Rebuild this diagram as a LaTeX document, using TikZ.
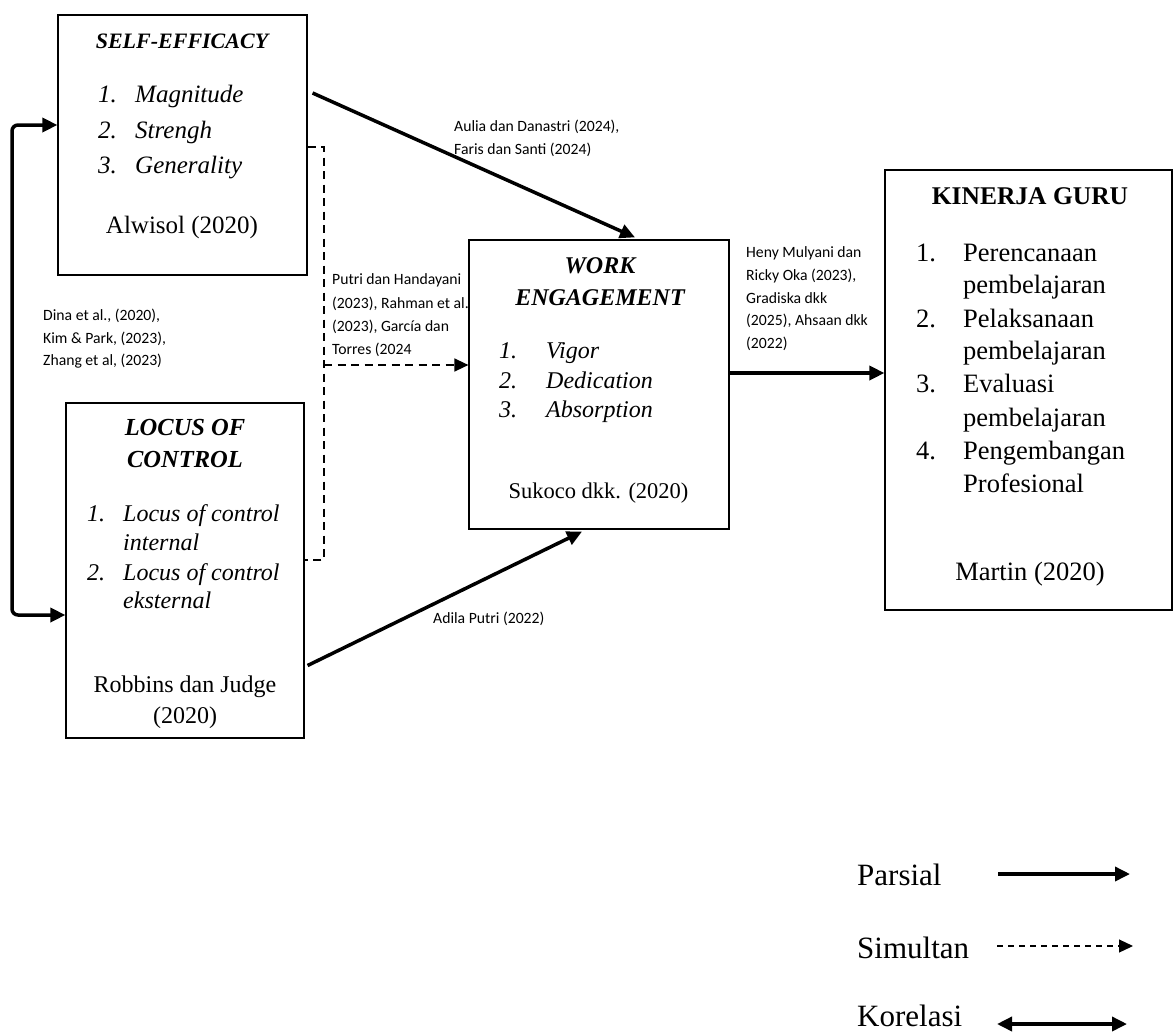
\documentclass[tikz,border=0pt]{standalone}
\usepackage{fontspec}
\setmainfont{Liberation Serif}
\newfontfamily\calib{Carlito}
\usetikzlibrary{arrows.meta}
\newcommand\sebody{\fontsize{25}{30}\selectfont}
\newcommand\locbody{\fontsize{24}{29}\selectfont}
\newcommand\kgbody{\fontsize{26.5}{31}\selectfont}
\newcommand\legf{\fontsize{31}{36}\selectfont}
\newcommand\smallf{\calib\fontsize{15.7}{18}\selectfont}
\begin{document}
\begin{tikzpicture}[x=1pt,y=-1pt,
  box/.style={draw, line width=1.2pt, inner sep=0},
  txt/.style={inner sep=0, anchor=base west},
  ctxt/.style={inner sep=0, anchor=base},
  small/.style={inner sep=0, anchor=base west, font=\smallf},
  parsial/.style={line width=3.5pt, -{Triangle[length=15pt,width=14pt]}},
  simultan/.style={line width=1.4pt, dash pattern=on 8pt off 5.5pt, -{Triangle[length=14pt,width=13pt]}},
  korelasi/.style={line width=3.5pt, {Triangle[length=15pt,width=14pt]}-{Triangle[length=15pt,width=14pt]}},
  bracket/.style={line width=1.4pt, dash pattern=on 8pt off 5.5pt},
]
\useasboundingbox (0,0) rectangle (1173,1034);

% ---------- Self-efficacy ----------
\node[box, minimum width=249pt, minimum height=260pt] (se) at (182.5,145) {};
\node[ctxt, font=\fontsize{22}{26}\selectfont\bfseries\itshape] (setitle) at (182,48) {SELF-EFFICACY};
\node[txt, font=\sebody\itshape] (se1n) at (98,102) {1.};
\node[txt, font=\sebody\itshape] (se1) at (135,102) {Magnitude};
\node[txt, font=\sebody\itshape] (se2n) at (98,138) {2.};
\node[txt, font=\sebody\itshape] (se2) at (135,138) {Strengh};
\node[txt, font=\sebody\itshape] (se3n) at (98,173) {3.};
\node[txt, font=\sebody\itshape] (se3) at (135,173) {Generality};
\node[ctxt, font=\sebody] (sesrc) at (182,233) {Alwisol (2020)};

% ---------- Locus of control ----------
\node[box, minimum width=238pt, minimum height=335pt] (loc) at (185,570.5) {};
\node[ctxt, font=\fontsize{24.5}{29}\selectfont\bfseries\itshape] (loct1) at (185,435) {LOCUS OF};
\node[ctxt, font=\fontsize{24.5}{29}\selectfont\bfseries\itshape] (loct2) at (185,467) {CONTROL};
\node[txt, font=\locbody\itshape] (loc1n) at (87,521) {1.};
\node[txt, font=\locbody\itshape] (loc1a) at (123,521) {Locus of control};
\node[txt, font=\locbody\itshape] (loc1b) at (123,550) {internal};
\node[txt, font=\locbody\itshape] (loc2n) at (87,580) {2.};
\node[txt, font=\locbody\itshape] (loc2a) at (123,580) {Locus of control};
\node[txt, font=\locbody\itshape] (loc2b) at (123,608) {eksternal};
\node[ctxt, font=\locbody] (locsrc1) at (185,692) {Robbins dan Judge};
\node[ctxt, font=\locbody] (locsrc2) at (185,723) {(2020)};

% ---------- Work engagement ----------
\node[box, minimum width=260pt, minimum height=289pt] (we) at (599,384.5) {};
\node[ctxt, font=\fontsize{24}{29}\selectfont\bfseries\itshape] (wet1) at (600,273) {WORK};
\node[ctxt, font=\fontsize{24}{29}\selectfont\bfseries\itshape] (wet2) at (600,305) {ENGAGEMENT};
\node[txt, font=\locbody\itshape] (we1n) at (499,358) {1.};
\node[txt, font=\locbody\itshape] (we1) at (546,358) {Vigor};
\node[txt, font=\locbody\itshape] (we2n) at (499,388) {2.};
\node[txt, font=\locbody\itshape] (we2) at (546,388) {Dedication};
\node[txt, font=\locbody\itshape] (we3n) at (499,417) {3.};
\node[txt, font=\locbody\itshape] (we3) at (546,417) {Absorption};
\node[ctxt, font=\fontsize{22.5}{27}\selectfont] (wesrc) at (598.5,498) {Sukoco dkk. (2020)};

% ---------- Kinerja guru ----------
\node[box, minimum width=287pt, minimum height=440pt] (kg) at (1028.5,390) {};
\node[ctxt, font=\fontsize{25.5}{30}\selectfont\bfseries] (kgt) at (1030,204) {KINERJA GURU};
\node[txt, font=\kgbody] (kg1n) at (916,261) {1.};
\node[txt, font=\kgbody] (kg1a) at (963,261) {Perencanaan};
\node[txt, font=\kgbody] (kg1b) at (963,293) {pembelajaran};
\node[txt, font=\kgbody] (kg2n) at (916,327) {2.};
\node[txt, font=\kgbody] (kg2a) at (963,327) {Pelaksanaan};
\node[txt, font=\kgbody] (kg2b) at (963,359) {pembelajaran};
\node[txt, font=\kgbody] (kg3n) at (916,392) {3.};
\node[txt, font=\kgbody] (kg3a) at (963,392) {Evaluasi};
\node[txt, font=\kgbody] (kg3b) at (963,426) {pembelajaran};
\node[txt, font=\kgbody] (kg4n) at (916,459) {4.};
\node[txt, font=\kgbody] (kg4a) at (963,459) {Pengembangan};
\node[txt, font=\kgbody] (kg4b) at (963,492) {Profesional};
\node[ctxt, font=\kgbody] (kgsrc) at (1030,580) {Martin (2020)};

% ---------- small labels ----------
\node[small] (la1) at (454,131) {Aulia dan Danastri (2024),};
\node[small] (la2) at (454,154) {Faris dan Santi (2024)};
\node[small] (lp1) at (332,284) {Putri dan Handayani};
\node[small] (lp2) at (332,308) {(2023), Rahman et al.};
\node[small] (lp3) at (332,331) {(2023), García dan};
\node[small] (lp4) at (332,354) {Torres (2024};
\node[small] (lh1) at (746,257) {Heny Mulyani dan};
\node[small] (lh2) at (746,280) {Ricky Oka (2023),};
\node[small] (lh3) at (746,303) {Gradiska dkk};
\node[small] (lh4) at (746,325) {(2025), Ahsaan dkk};
\node[small] (lh5) at (746,348) {(2022)};
\node[small] (ld1) at (43,320) {Dina et al., (2020),};
\node[small] (ld2) at (43,343) {Kim \& Park, (2023),};
\node[small] (ld3) at (43,365) {Zhang et al, (2023)};
\node[small] (lad) at (433,623) {Adila Putri (2022)};

% ---------- helper coordinates ----------
\coordinate (ya) at (0,125);
\coordinate (yb) at (0,615);
\coordinate (yc) at (0,147);
\coordinate (yd) at (0,560);
\coordinate (ye) at (0,365);
\coordinate (yf) at (0,373);
\coordinate (xl) at (12,0);
\coordinate (xb) at (324,0);

% ---------- connectors ----------
\draw[parsial] ([shift={(5,-52)}]se.east) -- ([shift={(36,-2)}]we.north);
\draw[parsial] ([shift={(3,95)}]loc.east) -- ([shift={(-17,2)}]we.south);
\draw[parsial] (we.east |- yf) -- (kg.west |- yf);
\draw[bracket] (se.east |- yc) -- (xb |- yc) -- (xb |- yd) -- (loc.east |- yd);
\draw[simultan] (xb |- ye) -- (we.west |- ye);
\draw[korelasi, rounded corners=6pt] (se.west |- ya) -- (xl |- ya) -- (xl |- yb) -- (loc.west |- yb);

% ---------- legend ----------
\node[txt, font=\legf] (lg1) at (857,885) {Parsial};
\node[txt, font=\legf] (lg2) at (857,958) {Simultan};
\node[txt, font=\legf] (lg3) at (857,1026) {Korelasi};
\coordinate (p1a) at (998,874);
\coordinate (p1b) at (1130,874);
\coordinate (p2a) at (997,946);
\coordinate (p2b) at (1133,946);
\coordinate (p3a) at (997,1024);
\coordinate (p3b) at (1127,1024);
\draw[parsial] (p1a) -- (p1b);
\draw[simultan, line width=1.2pt, dash pattern=on 6pt off 5pt] (p2a) -- (p2b);
\draw[korelasi] (p3a) -- (p3b);
\end{tikzpicture}
\end{document}
